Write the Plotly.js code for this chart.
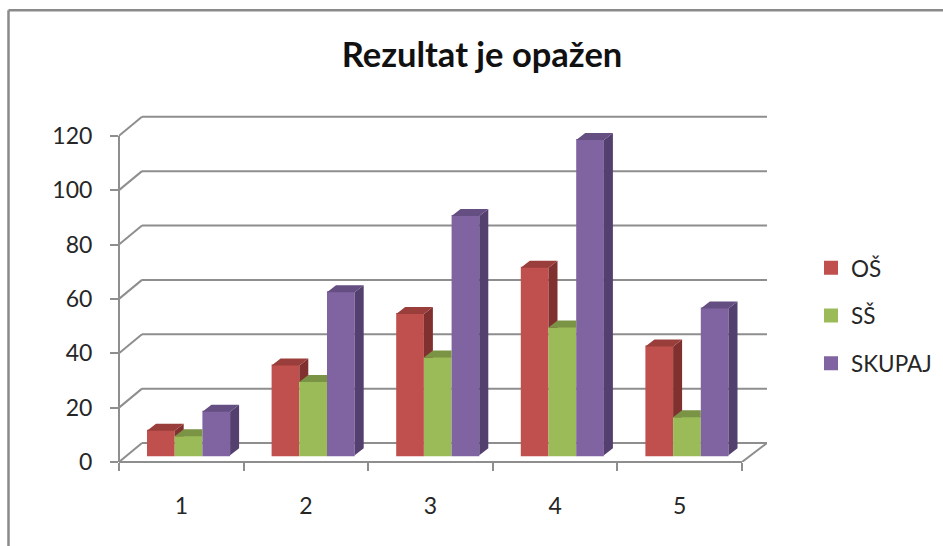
<!DOCTYPE html>
<html>
<head>
<meta charset="utf-8">
<script src="https://cdn.plot.ly/plotly-3.0.1.min.js"></script>
<style>html,body{margin:0;padding:0;background:#fff;overflow:hidden}#chart{width:943px;height:546px}</style>
</head>
<body>
<div id="chart"></div>
<script>
// ---- data ----
const categories = [1, 2, 3, 4, 5];
const osValues = [9, 33, 52, 69, 40];
const ssValues = [7, 27, 36, 47, 14];
const skupajValues = [16, 60, 88, 116, 54];
const seriesNames = ['OŠ', 'SŠ', 'SKUPAJ'];
const yTicks = [0, 20, 40, 60, 80, 100, 120];
const titleText = 'Rezultat je opažen';

// ---- styling ----
const frontColors = ['#C0504D', '#9BBB59', '#8064A2'];
const topColors = ['#9A3E3B', '#7A9345', '#654F82'];
const sideColors = ['#80312F', '#647A38', '#53406F'];
const gridColor = '#8E8E8E';
const textColor = '#262626';
const font = 'Lato, Carlito, "Open Sans", sans-serif';

// ---- oblique projection, expressed in axis units ----
const W = 943, H = 546;
const pxX = 124.6, pxY = 2.72;         // pixels per axis unit
const left = 119, floorY = 462;
const xRange = [0.5, 0.5 + 648 / pxX], yRange = [0, 128];
const wallDx = 23 / pxX, wallDy = 19 / pxY;   // floor depth
const barDx = 9 / pxX, barDy = 7 / pxY;       // bar depth
const lift = 6.7 / pxY;                       // bar sits forward of the back wall
const barW = 27.7 / pxX, lineW = 2 / pxX;
const startOff = (147 - (left + pxX / 2)) / pxX;

const plotW = (xRange[1] - xRange[0]) * pxX;
const plotH = (yRange[1] - yRange[0]) * pxY;
const margin = {l: left, r: W - left - plotW, b: H - floorY, t: H - (H - floorY) - plotH, pad: 0, autoexpand: false};

const all = [osValues, ssValues, skupajValues];
const traces = [];

all.forEach((vals, s) => {
  const offset = startOff + s * barW;
  traces.push({
    type: 'bar', name: seriesNames[s], x: categories, y: vals,
    base: vals.map(() => lift),
    width: vals.map(() => barW - lineW),
    offset: vals.map(() => offset + lineW / 2),
    marker: {color: frontColors[s], line: {color: frontColors[s], width: 2}},
    legendgroup: seriesNames[s], hoverinfo: 'x+y+name'
  });
});

// tops and side walls, taken from the same values; a neighbour's front hides what lies behind it
all.forEach((vals, s) => {
  const offset = startOff + s * barW;
  const sx = [], sy = [], tx = [], ty = [];
  const next = all[s + 1];
  vals.forEach((v, i) => {
    const xl = categories[i] + offset, xr = xl + barW;
    const t = lift + v;
    const nv = next ? lift + next[i] : null;
    if (!next) {
      sx.push(xr, xr + barDx, xr + barDx, xr, xr, null);
      sy.push(lift, lift + barDy, t + barDy, t, lift, null);
    } else if (nv < t) {
      sx.push(xr, xr + barDx, xr + barDx, xr, xr, null);
      sy.push(nv, nv, t + barDy, t, nv, null);
    }
    const clipped = next && nv > t;
    const backR = clipped ? xr : xr + barDx;
    tx.push(xl, xl + barDx, backR, xr, xl, null);
    ty.push(t, t + barDy, t + barDy, t, t, null);
  });
  traces.push({type: 'scatter', mode: 'lines', x: sx, y: sy, fill: 'toself', fillcolor: sideColors[s],
    line: {width: 0, color: sideColors[s]}, showlegend: false, legendgroup: seriesNames[s], hoverinfo: 'skip'});
  traces.push({type: 'scatter', mode: 'lines', x: tx, y: ty, fill: 'toself', fillcolor: topColors[s],
    line: {width: 0, color: topColors[s]}, showlegend: false, legendgroup: seriesNames[s], hoverinfo: 'skip'});
});

// ---- walls and floor ----
const gridLine = {color: gridColor, width: 2};
const shapes = [];
const x0 = xRange[0], xEnd = categories[categories.length - 1] + 0.5;
yTicks.forEach(v => {
  shapes.push({type: 'line', layer: 'below', xref: 'x', yref: 'y', x0: x0, y0: v, x1: x0 + wallDx, y1: v + wallDy, line: gridLine});
  shapes.push({type: 'line', layer: 'below', xref: 'x', yref: 'y', x0: x0 + wallDx, y0: v + wallDy, x1: xRange[1], y1: v + wallDy, line: gridLine});
});
shapes.push({type: 'line', layer: 'below', xref: 'paper', yref: 'y', x0: 0, x1: 0, y0: 0, y1: yTicks[yTicks.length - 1], line: gridLine});
shapes.push({type: 'line', layer: 'below', xref: 'x', yref: 'paper', x0: x0, x1: xEnd, y0: 0, y1: 0, line: gridLine});
shapes.push({type: 'line', layer: 'below', xref: 'x', yref: 'y', x0: xEnd, y0: 0, x1: xRange[1], y1: wallDy, line: gridLine});

// ---- outer chart frame (only its top and left edges are in view) ----
const paperX = p => (p - left) / plotW;
const paperY = p => (floorY - p) / plotH;
const frame = {color: '#8A8A8A', width: 2.5};
shapes.push({type: 'line', xref: 'paper', yref: 'paper', x0: paperX(8.5), x1: paperX(8.5), y0: paperY(10), y1: paperY(H), line: frame});
shapes.push({type: 'line', xref: 'paper', yref: 'paper', x0: paperX(8.5), x1: paperX(W), y0: paperY(10), y1: paperY(10), line: frame});

const layout = {
  width: W, height: H, margin: margin,
  paper_bgcolor: '#fff', plot_bgcolor: 'rgba(0,0,0,0)',
  barmode: 'overlay',
  font: {family: font, color: textColor},
  title: {text: '<b>' + titleText + '</b>', font: {size: 34.5, family: font, color: '#111'},
    xref: 'container', yref: 'container', x: 482 / W, xanchor: 'center', y: 1 - 55 / H, yanchor: 'middle'},
  xaxis: {
    range: xRange, showgrid: false, zeroline: false, showline: false, fixedrange: true,
    tickmode: 'array', tickvals: categories, ticktext: categories.map(String), ticks: '',
    tickfont: {size: 23, family: font, color: textColor}, ticklabelstandoff: 28,
    minor: {tickmode: 'array', tickvals: [0.5, 1.5, 2.5, 3.5, 4.5, 5.5], ticks: 'outside', ticklen: 8, tickwidth: 2, tickcolor: gridColor, showgrid: false}
  },
  yaxis: {
    range: yRange, showgrid: false, zeroline: false, showline: false, fixedrange: true,
    tickmode: 'array', tickvals: yTicks, ticks: 'outside', ticklen: 8, tickwidth: 2, tickcolor: gridColor,
    tickfont: {size: 23, family: font, color: textColor}, ticklabelstandoff: 13
  },
  legend: {
    x: paperX(811), xanchor: 'left', y: paperY(246.5), yanchor: 'top',
    font: {size: 22.5, family: font, color: textColor},
    traceorder: 'grouped', tracegroupgap: 15.5, bgcolor: 'rgba(0,0,0,0)', borderwidth: 0
  },
  shapes: shapes
};

Plotly.newPlot('chart', traces, layout, {displayModeBar: false, responsive: false, staticPlot: true});
</script>
</body>
</html>
